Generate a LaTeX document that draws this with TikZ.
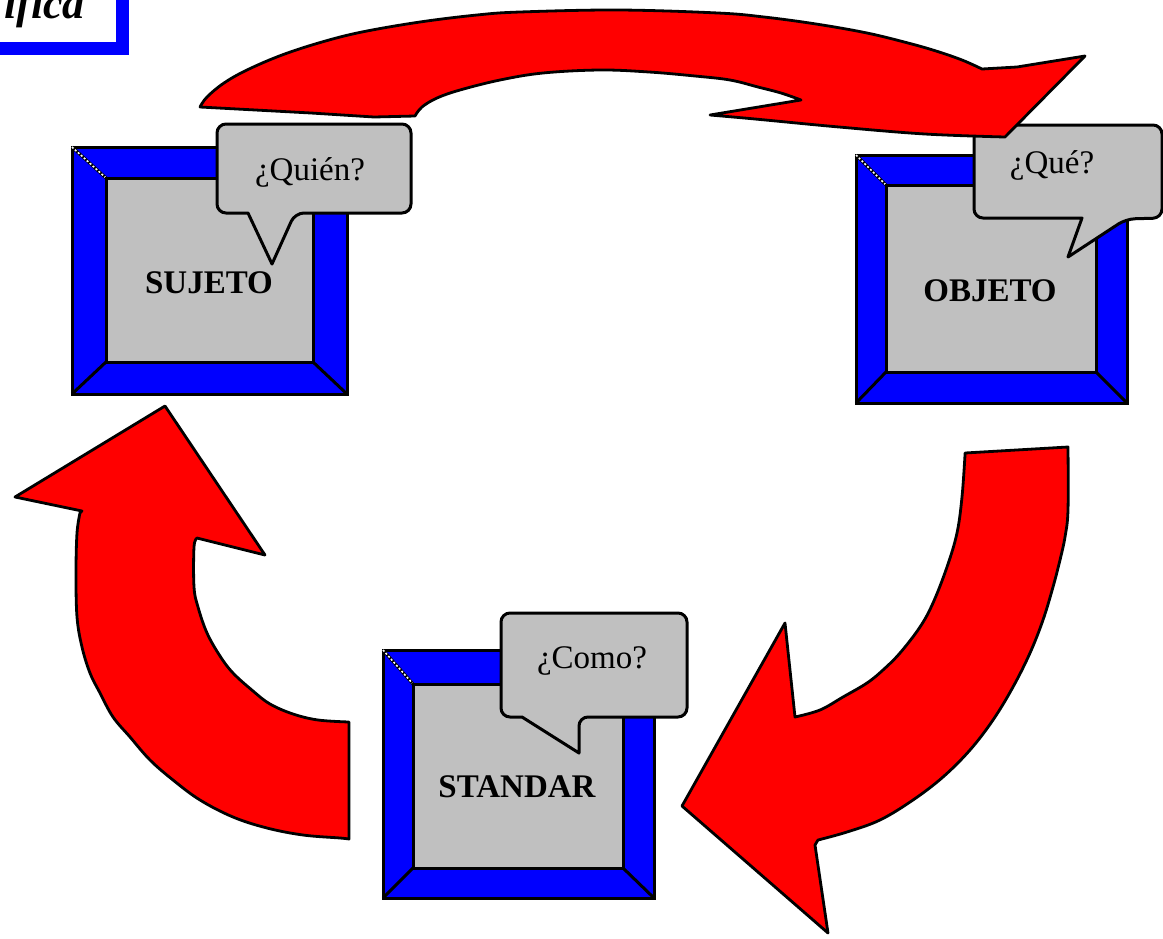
\documentclass[tikz,border=0pt]{standalone}
\usepackage{fontspec}
\setmainfont{Liberation Serif}
\definecolor{frameblue}{HTML}{0000FF}
\definecolor{arrowred}{HTML}{FF0000}
\definecolor{panelgray}{HTML}{C0C0C0}
\tikzset{
  outline/.style={draw=black, line width=3pt},
  bigarrow/.style={fill=arrowred, draw=black, line width=2.8pt, line join=round},
  bubble/.style={fill=panelgray, draw=black, line width=3pt, line join=round},
  question/.style={inner sep=0pt, anchor=base, font=\fontsize{33}{40}\selectfont},
  boxlabel/.style={inner sep=0pt, anchor=base, font=\fontsize{33}{40}\selectfont\bfseries},
}
% bevelled blue frame with grey panel: name, outer x1 y1 x2 y2, inner x1 y1 x2 y2
\newcommand\bevelframe[9]{%
  \fill[frameblue] (#2,#3) rectangle (#4,#5);
  \draw[outline] (#2,#3) rectangle (#4,#5);
  \draw[outline] (#2,#5) -- (#6,#9);
  \draw[outline] (#4,#5) -- (#8,#9);
  \draw[outline] (#4,#3) -- (#8,#7);
  \draw[outline] (#2,#3) -- (#6,#7);
  \draw[white, line width=1.6pt, dash pattern=on 2pt off 2pt] (#2,#3) -- (#6,#7);
  \filldraw[fill=panelgray, outline] (#6,#7) rectangle (#8,#9);
  \coordinate (#1) at ($(#6,#7)!0.5!(#8,#9)$);
}
\usetikzlibrary{calc}
\begin{document}
\begin{tikzpicture}[x=1pt, y=-1pt]
\useasboundingbox (0,0) rectangle (1163,938);
\clip (0,0) rectangle (1163,938);
\fill[white] (0,0) rectangle (1163,938);

% title box, mostly outside the page
\draw[frameblue, line width=13pt] (-60,-60) rectangle (122,48);
\node[inner sep=0pt, anchor=base east, font=\fontsize{44}{50}\selectfont\bfseries\itshape] (title) at (85,18) {ifica};

% the three frames
\bevelframe{sujeto}{72}{147}{347}{394}{106}{178}{313}{362}
\bevelframe{objeto}{856}{155}{1127}{403}{886}{185}{1096}{372}
\bevelframe{standar}{383}{650}{654}{898}{413}{684}{623}{868}

\node[boxlabel] (lsujeto) at (209,293) {SUJETO};
\node[boxlabel] (lobjeto) at (990,301) {OBJETO};
\node[boxlabel] (lstandar) at (517,797) {STANDAR};

% speech bubbles
\draw[bubble] (314,124) [rounded corners=9] -- (411,124) -- (411,213) -- (295,213)
  [sharp corners] -- (272,264) -- (248,213) [rounded corners=9] -- (217,213) -- (217,124) -- cycle;
\draw[bubble] (1068,125) [rounded corners=9] -- (1162,125) -- (1162,218) -- (1126,219)
  [sharp corners] -- (1068,257) -- (1082,218) [rounded corners=9] -- (974,218) -- (974,125) -- cycle;
\draw[bubble] (594,613) [rounded corners=9] -- (687,613) -- (687,717) -- (579,717)
  [sharp corners] -- (579,753) -- (522,717) [rounded corners=9] -- (501,717) -- (501,613) -- cycle;

\node[question] (qsujeto) at (310,180) {¿Quién?};
\node[question] (qobjeto) at (1052,173) {¿Qué?};
\node[question] (qstandar) at (592,668) {¿Como?};

% top arrow: SUJETO to OBJETO
\filldraw[bigarrow] plot[smooth, tension=0.6] coordinates {(200,107) (207,97) (224,83) (247,70) (282,55) (322,42) (362,32) (420,22) (477,15) (520,12) (618,10) (718,13) (764,17) (816,24) (867,33) (908,43) (936,51) (962,60) (982,69)}
  -- (1017,67) -- (1085,56) -- (1005,137)
  -- plot[smooth, tension=0.6] coordinates {(1005,137) (925,134) (839,127) (755,119) (710,115)}
  -- (801,100)
  -- plot[smooth, tension=0.6] coordinates {(801,100) (781,93) (758,87) (730,80) (695,76) (649,72) (600,70) (543,73) (500,80) (460,90) (437,98) (422,107) (415,116)}
  -- (374,117) -- (311,113) -- cycle;

% right arrow: OBJETO to STANDAR
\filldraw[bigarrow] (965,453) -- (1068,447)
  -- plot[smooth, tension=0.6] coordinates {(1068,447) (1068,510) (1065,537) (1060,560) (1053,587) (1043,620) (1030,653) (1013,687) (993,720) (970,750) (943,777) (913,800) (880,820) (847,832) (818,840)}
  -- (815,845) -- (828,933) -- (682,806) -- (785,623) -- (795,717)
  -- plot[smooth, tension=0.6] coordinates {(795,717) (820,710) (843,697) (867,683) (883,670) (900,653) (920,627) (933,603) (947,567) (957,533) (962,497) (965,455)}
  -- cycle;

% left arrow: STANDAR to SUJETO
\filldraw[bigarrow] (165,406) -- (15,497) -- (82,511)
  -- plot[smooth, tension=0.6] coordinates {(80,513) (77,533) (76,573) (77,617) (82,647) (90,673) (100,693) (113,717) (130,737) (150,760) (173,780) (200,800) (233,817) (267,828) (303,835) (340,838) (349,839)}
  -- (349,722)
  -- plot[smooth, tension=0.6] coordinates {(349,722) (318,720) (293,714) (270,704) (253,691) (233,673) (220,656) (207,633) (198,607) (194,587) (194,547) (197,538)}
  -- (265,555) -- cycle;
\end{tikzpicture}
\end{document}
